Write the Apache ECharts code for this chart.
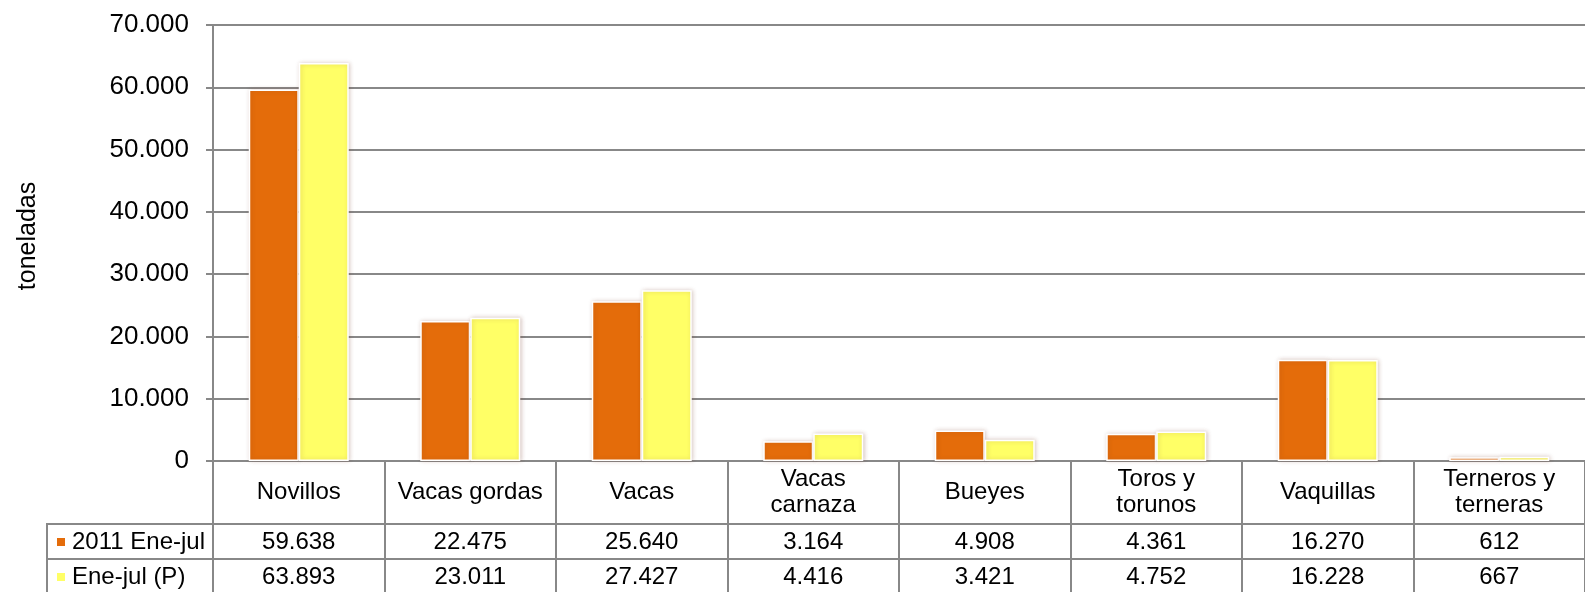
<!DOCTYPE html>
<html>
<head>
<meta charset="utf-8">
<script src="https://cdn.jsdelivr.net/npm/echarts@6/dist/echarts.min.js"></script>
<style>
html,body{margin:0;padding:0;background:#fff;}
#chart{width:1585px;height:592px;}
</style>
</head>
<body>
<div id="chart"></div>
<script>
var categories = ['Novillos', 'Vacas gordas', 'Vacas', 'Vacas\ncarnaza', 'Bueyes', 'Toros y\ntorunos', 'Vaquillas', 'Terneros y\nterneras'];
var seriesNames = ['2011 Ene-jul', 'Ene-jul (P)'];
var values2011 = [59638, 22475, 25640, 3164, 4908, 4361, 16270, 612];
var valuesP = [63893, 23011, 27427, 4416, 3421, 4752, 16228, 667];
var yTicks = { min: 0, max: 70000, interval: 10000 };
var axisTitle = 'toneladas';

function fmt(v) {
  return String(v).replace(/\B(?=(\d{3})+(?!\d))/g, '.');
}

var gray = '#888888';
var font = 'Liberation Sans, Arial, sans-serif';
var colors = ['#E46C0A', '#FFFF66'];

var chart = echarts.init(document.getElementById('chart'), null, { renderer: 'canvas' });

function barStyle(c) {
  return {
    color: c,
    borderColor: '#fff',
    borderWidth: 1.5,
    shadowBlur: 4,
    shadowColor: 'rgba(120,60,40,0.25)',
    shadowOffsetX: 1,
    shadowOffsetY: 0
  };
}

function legendFor(name, top) {
  return {
    orient: 'horizontal',
    left: 57,
    top: top,
    itemWidth: 8,
    itemHeight: 8,
    icon: 'rect',
    data: [name],
    itemStyle: { borderWidth: 0, shadowBlur: 0 },
    textStyle: { fontSize: 24, color: '#000', fontFamily: font, padding: [0, 0, 0, 2] },
    selectedMode: false,
    padding: 0
  };
}

var option = {
  animation: false,
  backgroundColor: '#fff',
  textStyle: { fontFamily: font },
  grid: { left: 213, top: 25, width: 1392, height: 436 },
  legend: [legendFor(seriesNames[0], 530), legendFor(seriesNames[1], 565)],
  xAxis: [
    {
      type: 'category',
      data: categories,
      position: 'bottom',
      axisLine: { show: true, lineStyle: { color: gray, width: 2 } },
      axisTick: { show: true, length: 140, lineStyle: { color: gray, width: 2 } },
      axisLabel: {
        interval: 0, margin: 31, verticalAlign: 'middle', fontSize: 24,
        lineHeight: 26, color: '#000', fontFamily: font
      },
      splitLine: { show: false }
    },
    {
      type: 'category',
      data: values2011.map(fmt),
      position: 'bottom',
      offset: 63,
      axisLine: { show: true, lineStyle: { color: gray, width: 2 } },
      axisTick: { show: false },
      axisLabel: { interval: 0, margin: 18, verticalAlign: 'middle', fontSize: 24, color: '#000', fontFamily: font }
    },
    {
      type: 'category',
      data: valuesP.map(fmt),
      position: 'bottom',
      offset: 98,
      axisLine: { show: true, lineStyle: { color: gray, width: 2 } },
      axisTick: { show: false },
      axisLabel: { interval: 0, margin: 18, verticalAlign: 'middle', fontSize: 24, color: '#000', fontFamily: font }
    }
  ],
  yAxis: {
    type: 'value',
    min: yTicks.min,
    max: yTicks.max,
    interval: yTicks.interval,
    name: axisTitle,
    nameLocation: 'middle',
    nameRotate: 90,
    nameGap: 172,
    nameTextStyle: { fontSize: 25, color: '#000', fontFamily: font, padding: [0, 0, 0, 14] },
    axisLine: { show: true, lineStyle: { color: gray, width: 2 } },
    axisTick: { show: true, length: 7, lineStyle: { color: gray, width: 2 } },
    axisLabel: {
      margin: 24, fontSize: 26, color: '#000', fontFamily: font,
      formatter: function (v) { return fmt(v); }
    },
    splitLine: { show: true, lineStyle: { color: gray, width: 2 } }
  },
  graphic: [
    { type: 'line', shape: { x1: 47, y1: 524, x2: 213, y2: 524 }, style: { stroke: gray, lineWidth: 2 } },
    { type: 'line', shape: { x1: 47, y1: 559, x2: 213, y2: 559 }, style: { stroke: gray, lineWidth: 2 } },
    { type: 'line', shape: { x1: 47, y1: 523, x2: 47, y2: 600 }, style: { stroke: gray, lineWidth: 2 } }
  ],
  series: [
    {
      name: seriesNames[0], type: 'bar', data: values2011,
      barWidth: 50, barGap: '0%', itemStyle: barStyle(colors[0])
    },
    {
      name: seriesNames[1], type: 'bar', data: valuesP,
      barWidth: 50, barGap: '0%', itemStyle: barStyle(colors[1])
    }
  ]
};
chart.setOption(option);
</script>
</body>
</html>
